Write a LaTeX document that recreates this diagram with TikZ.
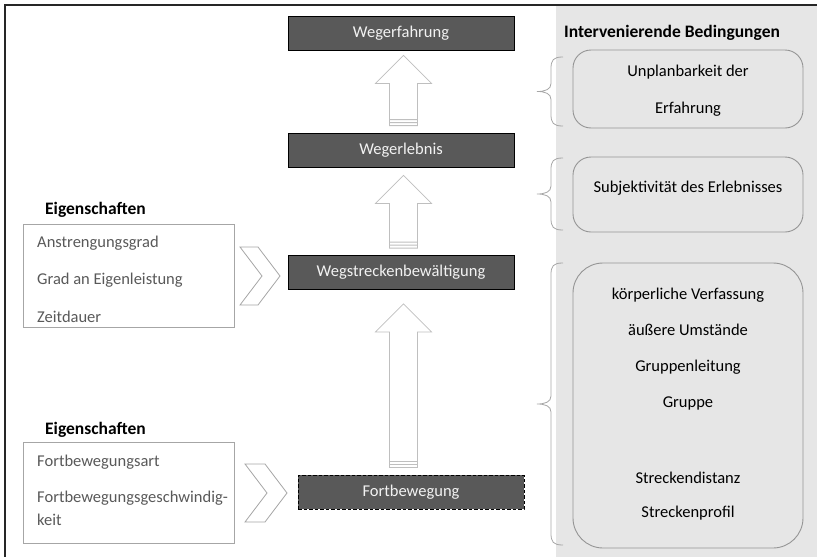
\documentclass[tikz,border=0pt]{standalone}
\usepackage{fontspec}
\setmainfont{Carlito}
\usetikzlibrary{calc}

\definecolor{boxdark}{HTML}{595959}
\definecolor{boxtext}{HTML}{F2F2F2}
\definecolor{panel}{HTML}{E6E6E6}
\definecolor{arrowgray}{HTML}{BFBFBF}
\definecolor{linegray}{HTML}{A6A6A6}
\definecolor{itemgray}{HTML}{595959}

\tikzset{
  txt/.style={font=\fontsize{16.5}{20}\selectfont, inner sep=0pt},
  ttl/.style={font=\fontsize{17.5}{21}\selectfont\bfseries, inner sep=0pt},
  process/.style={draw=black, line width=0.8pt, fill=boxdark, text=boxtext,
    minimum width=226pt, minimum height=34pt, txt},
  processdashed/.style={process, line width=1pt, dash pattern=on 3.5pt off 2pt},
  propbox/.style={draw=linegray, line width=0.8pt, minimum width=211pt},
  condbox/.style={draw=linegray!90!black, line width=0.9pt, minimum width=230pt},
  item/.style={txt, text=itemgray, anchor=west},
  cond/.style={txt, text=black},
  blockarrow/.style={draw=arrowgray, fill=white, line width=0.8pt},
  chevron/.style={draw=linegray, fill=white, line width=0.8pt},
  bracket/.style={draw=linegray, line width=0.8pt},
}

% upward block arrow from the top of #1 to the bottom of #2, tip gap #3
\newcommand\blockarrow[3]{%
  \draw[blockarrow] let \p1=(#1.north), \p2=(#2.south) in
    (\x2-11.5pt,\y1+7pt) -- (\x2-11.5pt,\y2-#3-28pt) -- (\x2-25.5pt,\y2-#3-28pt)
    -- (\x2+2.5pt,\y2-#3) -- (\x2+30.5pt,\y2-#3-28pt) -- (\x2+16.5pt,\y2-#3-28pt)
    -- (\x2+16.5pt,\y1+7pt) -- cycle
    (\x2-11.5pt,\y1+10pt) -- (\x2+16.5pt,\y1+10pt)
    (\x2-11.5pt,\y1+13pt) -- (\x2+16.5pt,\y1+13pt);}

% curly bracket on the left of a condition box, from y #1 to y #2
\newcommand\condbracket[2]{%
  \draw[bracket] let \n1={(#1+#2)/2} in
    (563,#1) .. controls (553,#1) and (551,#1+3) .. (551,#1+12)
    -- (551,\n1-8) .. controls (551,\n1-2) and (545,\n1) .. (537,\n1)
    .. controls (545,\n1) and (551,\n1+2) .. (551,\n1+8)
    -- (551,#2-12) .. controls (551,#2-3) and (553,#2) .. (563,#2);}

\begin{document}
\begin{tikzpicture}[x=1pt,y=-1pt]
  \useasboundingbox (0,0) rectangle (817,557);

  % frame and side panel
  \fill[panel] (556,6) rectangle (817,557);
  \draw[line width=1.5pt, black!85] (5,557) -- (5,5) -- (817,5);

  % process chain
  \node[process] (erf) at (401,33) {Wegerfahrung};
  \node[process] (erl) at (401,150) {Wegerlebnis};
  \node[process] (weg) at (401,272.5) {Wegstreckenbewältigung};
  \node[processdashed] (fort) at (411,492) {Fortbewegung};

  \blockarrow{erl}{erf}{5pt}
  \blockarrow{weg}{erl}{8pt}
  \blockarrow{fort}{weg}{14pt}

  % properties of the stretch coping
  \node[ttl, anchor=west] (eig1) at (45,210) {Eigenschaften};
  \node[propbox, minimum height=103pt] (prop1) at (128.5,275.5) {};
  \node[item] (p11) at (37,243) {Anstrengungsgrad};
  \node[item] (p12) at (37,280) {Grad an Eigenleistung};
  \node[item] (p13) at (37,317) {Zeitdauer};
  \draw[chevron] (240,247) -- (258,247) -- (280,276) -- (258,305) -- (240,305) -- (262,276) -- cycle;

  % properties of the locomotion
  \node[ttl, anchor=west] (eig2) at (45,430) {Eigenschaften};
  \node[propbox, minimum height=101pt] (prop2) at (128.5,492.5) {};
  \node[item] (p21) at (37,462) {Fortbewegungsart};
  \node[item] (p22) at (37,498) {Fortbewegungsgeschwindig-};
  \node[item] (p23) at (37,520) {keit};
  \draw[chevron] (245,464) -- (265,464) -- (287,493) -- (265,522) -- (245,522) -- (267,493) -- cycle;

  % intervening conditions
  \node[ttl] (ib) at (672,33) {Intervenierende Bedingungen};

  \node[condbox, rounded corners=18pt, minimum height=78pt] (c1) at (688,89) {};
  \node[cond] (c1a) at (688,72) {Unplanbarkeit der};
  \node[cond] (c1b) at (688,109) {Erfahrung};
  \condbracket{57}{126}

  \node[condbox, rounded corners=18pt, minimum height=75pt] (c2) at (688,194.5) {};
  \node[cond] (c2a) at (688,188) {Subjektivität des Erlebnisses};
  \condbracket{158}{230}

  \node[condbox, rounded corners=30pt, minimum height=285pt] (c3) at (688,405.5) {};
  \node[cond] (c3a) at (688,295) {körperliche Verfassung};
  \node[cond] (c3b) at (688,330) {äußere Umstände};
  \node[cond] (c3c) at (688,367) {Gruppenleitung};
  \node[cond] (c3d) at (688,403) {Gruppe};
  \node[cond] (c3e) at (688,478) {Streckendistanz};
  \node[cond] (c3f) at (688,513) {Streckenprofil};
  \condbracket{263}{545}
\end{tikzpicture}
\end{document}
